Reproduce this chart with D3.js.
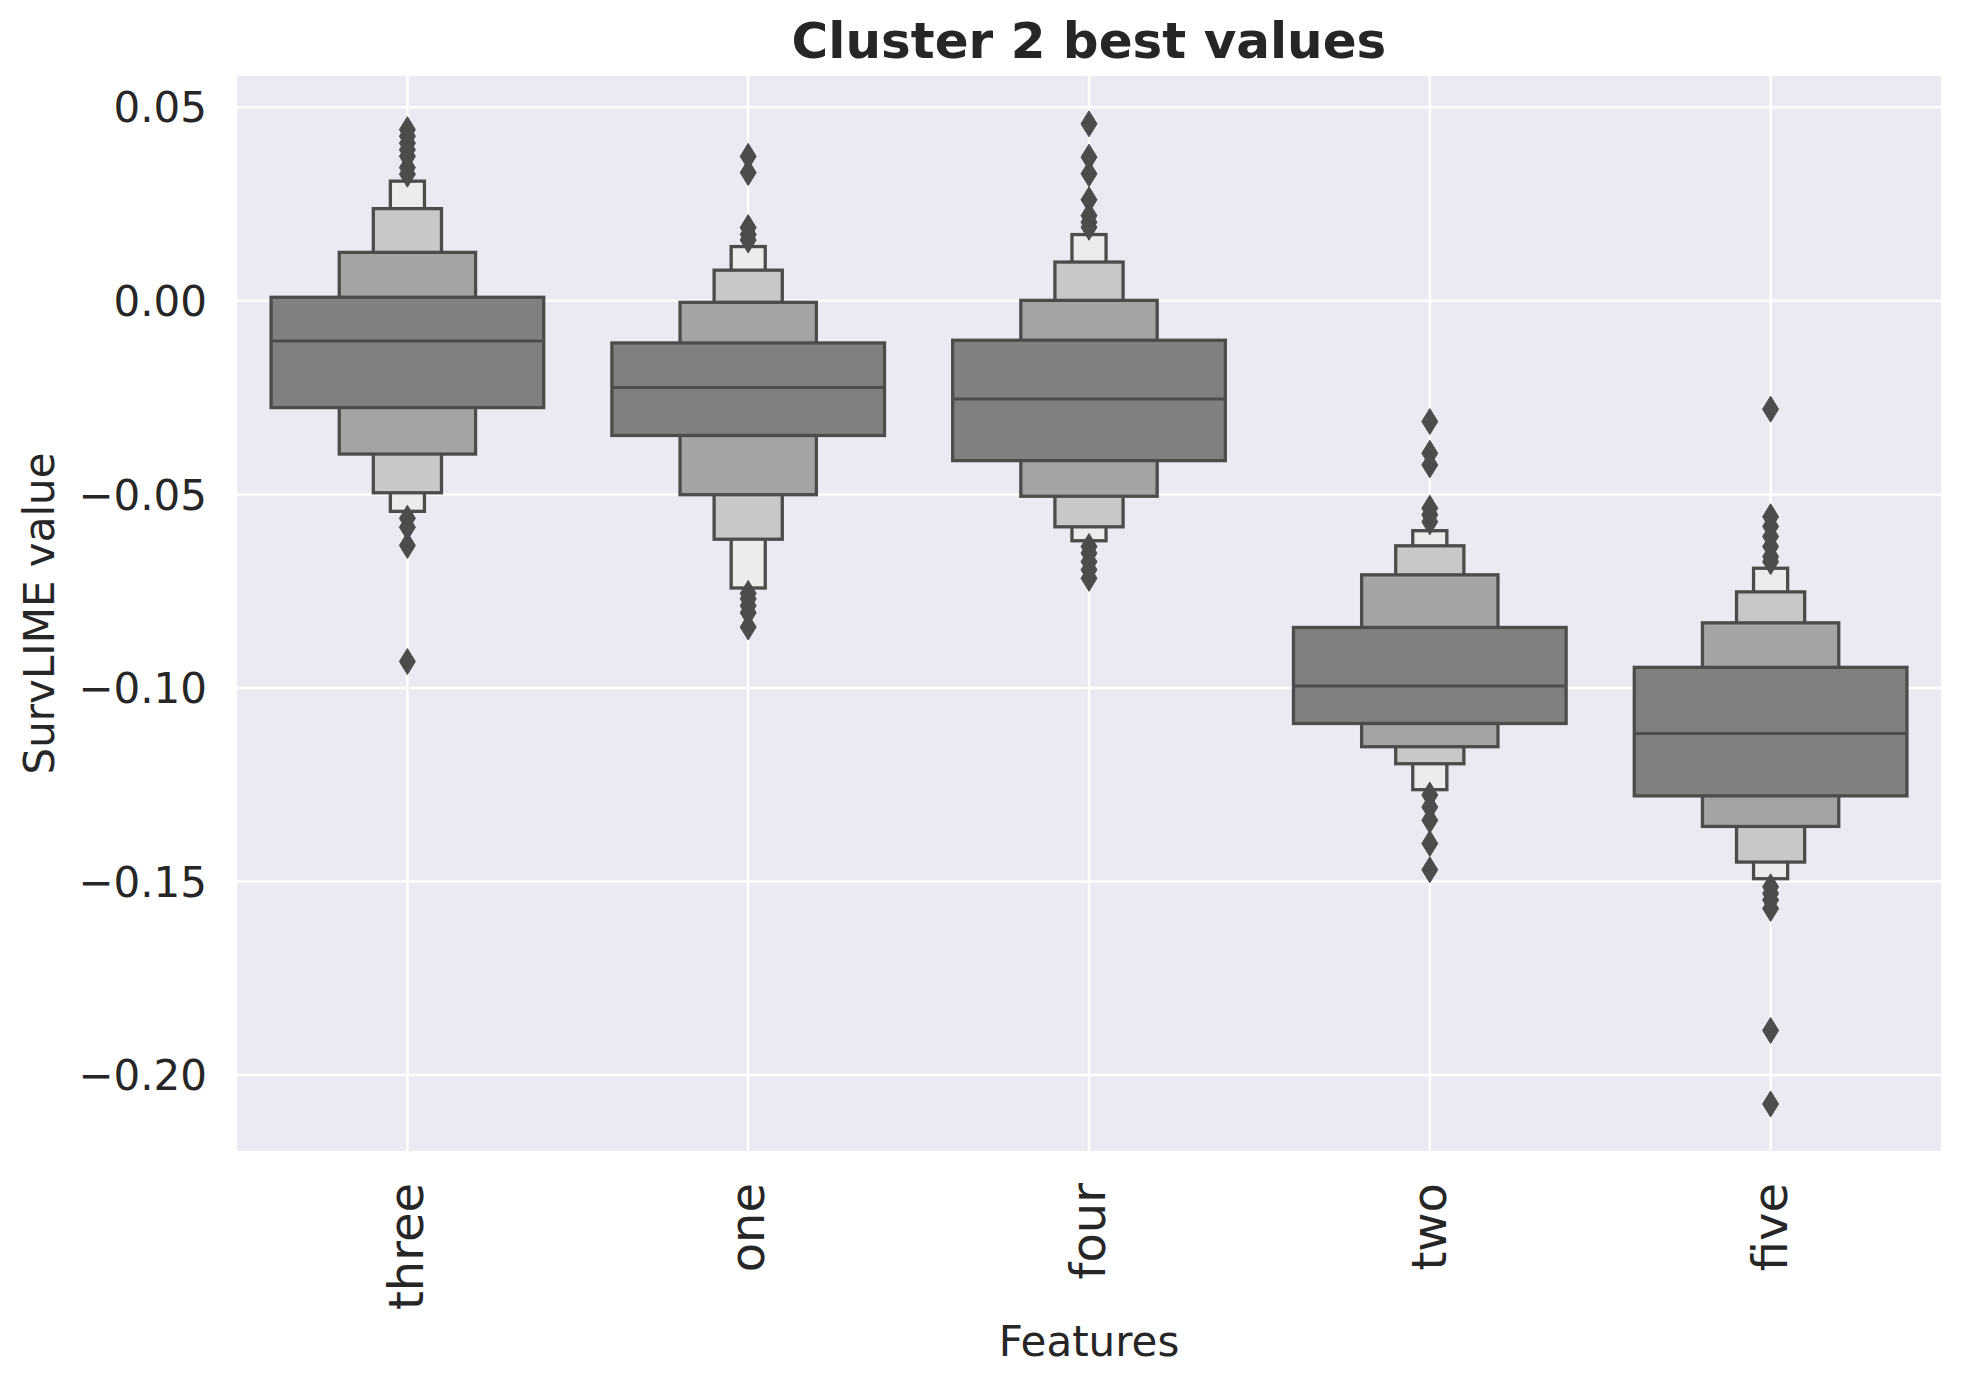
<!DOCTYPE html>
<html>
<head>
<meta charset="utf-8">
<script src="https://cdn.jsdelivr.net/npm/d3@7"></script>
<style>
  html, body { margin: 0; padding: 0; background: #ffffff; }
  svg { display: block; font-family: "DejaVu Sans", sans-serif; }
</style>
</head>
<body>
<svg id="chart" width="1961" height="1385"></svg>
<script>
// ---------------- data ----------------
const categories = ["three", "one", "four", "two", "five"];
const medians = [-0.0105, -0.0225, -0.0255, -0.0996, -0.1119];
// letter-value box edges, from the innermost (widest) box outward
const boxUpper = [
  [0.0008, 0.0124, 0.0237, 0.0308],
  [-0.0110, -0.0005, 0.0078, 0.0139],
  [-0.0103, 0.0000, 0.0099, 0.0170],
  [-0.0845, -0.0709, -0.0634, -0.0595],
  [-0.0948, -0.0833, -0.0753, -0.0692]
];
const boxLower = [
  [-0.0277, -0.0397, -0.0497, -0.0545],
  [-0.0349, -0.0502, -0.0617, -0.0743],
  [-0.0414, -0.0506, -0.0585, -0.0621],
  [-0.1093, -0.1153, -0.1197, -0.1264],
  [-0.1280, -0.1359, -0.1451, -0.1494]
];
const outliers = [
  [0.0441, 0.0424, 0.0406, 0.0389, 0.0372, 0.0343, 0.0326, -0.0563, -0.0586, -0.0633, -0.0933],
  [0.0372, 0.0330, 0.0188, 0.0170, 0.0156, -0.0757, -0.0771, -0.0789, -0.0807, -0.0844],
  [0.0456, 0.0370, 0.0327, 0.0260, 0.0219, 0.0202, 0.0189, -0.0636, -0.0653, -0.0675, -0.0696, -0.0718],
  [-0.0313, -0.0395, -0.0425, -0.0537, -0.0554, -0.0572, -0.1278, -0.1309, -0.1343, -0.1403, -0.1471],
  [-0.0281, -0.0559, -0.0584, -0.0610, -0.0636, -0.0662, -0.0675, -0.1515, -0.1532, -0.1549, -0.1571, -0.1886, -0.2076]
];
const yTicks = [-0.20, -0.15, -0.10, -0.05, 0.00, 0.05];
const levelColors = ["#808080", "#a4a4a4", "#c8c8c8", "#ececec"];
const titleText = "Cluster 2 best values";
const xLabelText = "Features";
const yLabelText = "SurvLIME value";

// ---------------- layout ----------------
const axL = 237, axR = 1941, axT = 76, axB = 1151;
const edge = "#4c4c4c";
const textColor = "#262626";

const svg = d3.select("#chart");

const x = d3.scaleBand().domain(categories).range([axL, axR]).padding(0);
const y = d3.scaleLinear().domain([-0.21974, 0.05796]).range([axB, axT]);

// axes background
svg.append("rect")
  .attr("x", axL).attr("y", axT)
  .attr("width", axR - axL).attr("height", axB - axT)
  .attr("fill", "#eaeaf2");

// y axis with gridlines
const yAxis = svg.append("g")
  .attr("transform", `translate(${axL},0)`)
  .call(d3.axisLeft(y).tickValues(yTicks).tickFormat(d3.format(".2f"))
        .tickSize(-(axR - axL)).tickPadding(30));
yAxis.select(".domain").remove();
yAxis.selectAll(".tick line").attr("stroke", "#ffffff").attr("stroke-width", 2.5);
yAxis.selectAll(".tick text")
  .attr("fill", textColor)
  .style("font-size", "42px")
  .attr("font-family", "DejaVu Sans")
  .attr("dy", "0.36em");

// x axis with gridlines
const xAxis = svg.append("g")
  .attr("transform", `translate(0,${axB})`)
  .call(d3.axisBottom(x).tickSize(-(axB - axT)).tickPadding(0));
xAxis.select(".domain").remove();
xAxis.selectAll(".tick line").attr("stroke", "#ffffff").attr("stroke-width", 2.5);
xAxis.selectAll(".tick text")
  .attr("fill", textColor)
  .style("font-size", "48px")
  .attr("font-family", "DejaVu Sans")
  .attr("text-anchor", "end")
  .attr("dy", null)
  .attr("y", 0)
  .attr("x", 0)
  .attr("transform", "translate(16,32) rotate(-90)");

// boxen plots
const fullW = x.bandwidth() * 0.8;
const plot = svg.append("g");
categories.forEach((cat, i) => {
  const cx = x(cat) + x.bandwidth() / 2;
  const g = plot.append("g");
  const levels = boxUpper[i].map((u, k) => ({ k, hi: u, lo: boxLower[i][k] }));
  // draw outermost (narrowest) first so wider boxes sit on top
  levels.slice().reverse().forEach(lv => {
    const w = fullW / Math.pow(2, lv.k);
    g.append("rect")
      .attr("x", cx - w / 2)
      .attr("y", y(lv.hi))
      .attr("width", w)
      .attr("height", y(lv.lo) - y(lv.hi))
      .attr("fill", levelColors[lv.k])
      .attr("stroke", edge)
      .attr("stroke-width", 3.3);
  });
  // median
  g.append("line")
    .attr("x1", cx - fullW / 2).attr("x2", cx + fullW / 2)
    .attr("y1", y(medians[i])).attr("y2", y(medians[i]))
    .attr("stroke", edge).attr("stroke-width", 3);
  // outliers: thin diamonds
  g.selectAll("path.out").data(outliers[i]).enter().append("path")
    .attr("class", "out")
    .attr("d", v => {
      const py = y(v), hw = 8, hh = 13;
      return `M${cx},${py - hh}L${cx + hw},${py}L${cx},${py + hh}L${cx - hw},${py}Z`;
    })
    .attr("fill", edge)
    .attr("stroke", edge)
    .attr("stroke-width", 1);
});

// title
svg.append("text")
  .attr("x", (axL + axR) / 2).attr("y", 58)
  .attr("text-anchor", "middle")
  .attr("fill", textColor)
  .style("font-size", "50px").style("font-weight", "bold")
  .text(titleText);

// x label
svg.append("text")
  .attr("x", (axL + axR) / 2).attr("y", 1356)
  .attr("text-anchor", "middle")
  .attr("fill", textColor)
  .style("font-size", "42px")
  .text(xLabelText);

// y label
svg.append("text")
  .attr("transform", `translate(54,${(axT + axB) / 2}) rotate(-90)`)
  .attr("text-anchor", "middle")
  .attr("fill", textColor)
  .style("font-size", "42px")
  .text(yLabelText);
</script>
</body>
</html>
